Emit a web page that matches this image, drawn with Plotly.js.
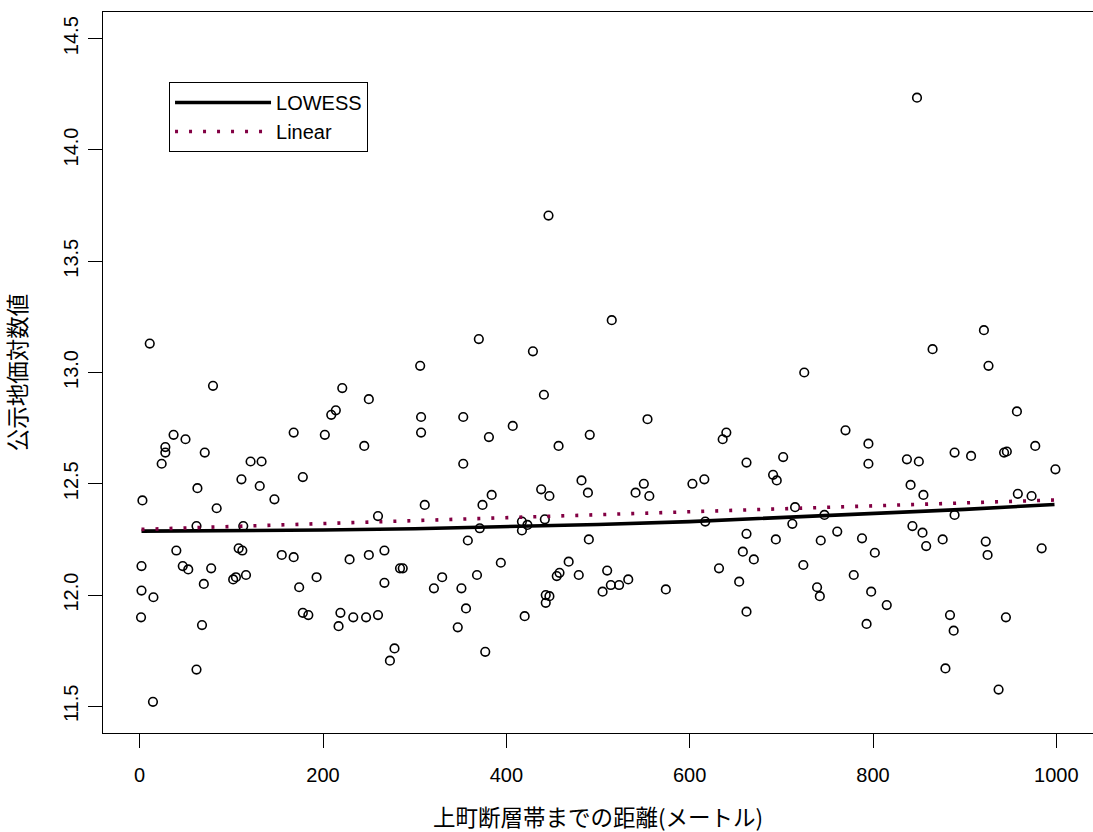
<!DOCTYPE html>
<html>
<head>
<meta charset="utf-8">
<script src="https://cdn.plot.ly/plotly-3.0.1.min.js"></script>
<style>
  html, body { margin: 0; padding: 0; background: #ffffff; overflow: hidden; }
  #chart { width: 1093px; height: 832px; }
</style>
</head>
<body>
<div id="chart"></div>
<script>
// ---- data ----
const distX = [
  11, 80, 221, 214, 209, 37, 50, 168, 202, 28, 28, 71, 24, 121, 133, 111, 178, 131, 3, 63,
  84, 147, 62, 113, 40, 2, 47, 53, 78, 108, 112, 155, 168, 229, 70, 102, 105, 116, 174, 193,
  2, 15, 1.5, 68, 178, 184, 219, 217, 62, 14.5,
  370, 429, 306, 250, 441, 307, 353, 307, 407, 381, 457, 491, 245, 353, 482, 438, 447, 489, 384, 374,
  311, 260, 417, 423, 417, 442, 371, 358, 250, 267, 284, 287, 267, 330, 321, 351, 368, 394, 468, 458,
  455, 479, 443, 447, 443, 356, 420, 233, 247, 260, 347, 278, 273, 377, 446,
  515, 725, 554, 640, 636, 662, 702, 691, 695, 550, 541, 556, 603, 616, 715, 747, 712, 617, 662, 694,
  743, 490, 658, 670, 632, 724, 654, 510, 514, 523, 533, 505, 574, 662, 739, 742,
  921, 865, 926, 957, 770, 795, 795, 837, 850, 889, 907, 943, 946, 977, 999, 841, 855, 958, 973, 889,
  843, 854, 761, 788, 802, 858, 876, 923, 925, 984, 779, 798, 815, 793, 884, 888, 945, 879, 937, 848
];
const logPrice = [
  13.13, 12.94, 12.93, 12.83, 12.81, 12.72, 12.70, 12.73, 12.72, 12.665, 12.64, 12.64, 12.59, 12.60, 12.60, 12.52, 12.53, 12.49, 12.425, 12.48,
  12.39, 12.43, 12.31, 12.31, 12.20, 12.13, 12.13, 12.115, 12.12, 12.21, 12.20, 12.18, 12.17, 12.16, 12.05, 12.07, 12.08, 12.09, 12.035, 12.08,
  12.02, 11.99, 11.90, 11.865, 11.92, 11.91, 11.92, 11.86, 11.665, 11.52,
  13.15, 13.095, 13.03, 12.88, 12.90, 12.80, 12.80, 12.73, 12.76, 12.71, 12.67, 12.72, 12.67, 12.59, 12.515, 12.475, 12.445, 12.46, 12.45, 12.405,
  12.405, 12.355, 12.33, 12.315, 12.29, 12.34, 12.30, 12.245, 12.18, 12.20, 12.12, 12.12, 12.055, 12.08, 12.03, 12.03, 12.09, 12.145, 12.15, 12.10,
  12.085, 12.09, 12.00, 11.995, 11.965, 11.94, 11.905, 11.90, 11.90, 11.91, 11.855, 11.76, 11.705, 11.745, 13.705,
  13.235, 13.00, 12.79, 12.73, 12.70, 12.595, 12.62, 12.54, 12.515, 12.50, 12.46, 12.445, 12.50, 12.52, 12.395, 12.36, 12.32, 12.33, 12.275, 12.25,
  12.245, 12.25, 12.195, 12.16, 12.12, 12.135, 12.06, 12.11, 12.045, 12.045, 12.07, 12.015, 12.025, 11.925, 12.035, 11.995,
  13.19, 13.105, 13.03, 12.825, 12.74, 12.68, 12.59, 12.61, 12.60, 12.64, 12.625, 12.64, 12.645, 12.67, 12.565, 12.495, 12.45, 12.455, 12.445, 12.36,
  12.31, 12.28, 12.285, 12.255, 12.19, 12.22, 12.25, 12.24, 12.18, 12.21, 12.09, 12.015, 11.955, 11.87, 11.91, 11.84, 11.90, 11.67, 11.575, 14.235
];

const lowessX = [2, 100, 200, 300, 400, 500, 600, 700, 800, 900, 998];
const lowessY = [12.287, 12.289, 12.292, 12.298, 12.306, 12.317, 12.330, 12.347, 12.366, 12.385, 12.407];

const linearX = [2, 998];
const linearY = [12.295, 12.427];

const xTickVals = [0, 200, 400, 600, 800, 1000];
const xTickText = ['0', '200', '400', '600', '800', '1000'];
const yTickVals = [11.5, 12.0, 12.5, 13.0, 13.5, 14.0, 14.5];
const yTickText = ['11.5', '12.0', '12.5', '13.0', '13.5', '14.0', '14.5'];

const seriesNames = ['LOWESS', 'Linear'];
const xTitle = '上町断層帯までの距離(メートル)';
const yTitle = '公示地価対数値';

// ---- styling ----
const tickFont = { family: 'Liberation Sans, Arial, sans-serif', size: 20, color: '#000000' };
const titleFont = { family: '"Noto Sans CJK JP", "Noto Sans CJK SC", sans-serif', size: 22.5, color: '#000000' };
const linearColor = '#820043';

const traces = [
  {
    type: 'scatter', mode: 'markers', x: distX, y: logPrice, showlegend: false, hoverinfo: 'x+y',
    marker: { symbol: 'circle-open', size: 8.6, color: '#000000', line: { width: 1.6, color: '#000000' } }
  },
  {
    type: 'scatter', mode: 'lines', x: lowessX, y: lowessY, name: seriesNames[0],
    line: { color: '#000000', width: 3.6 }
  },
  {
    type: 'scatter', mode: 'lines', x: linearX, y: linearY, name: seriesNames[1],
    line: { color: linearColor, width: 3.6, dash: '3px,11px' }
  }
];

const layout = {
  width: 1093, height: 832,
  margin: { l: 103, r: 0, t: 12, b: 99, pad: 0 },
  paper_bgcolor: '#ffffff', plot_bgcolor: '#ffffff',
  font: { family: 'Liberation Sans, Arial, sans-serif', color: '#000000' },
  xaxis: {
    range: [-40, 1040], showgrid: false, zeroline: false,
    showline: true, linecolor: '#000000', linewidth: 1, mirror: true,
    ticks: 'outside', ticklen: 14, tickwidth: 1, tickcolor: '#000000',
    tickmode: 'array', tickvals: xTickVals, ticktext: xTickText,
    tickfont: tickFont, ticklabelstandoff: 10,
    automargin: true,
    title: { text: xTitle, font: titleFont, standoff: 26 }
  },
  yaxis: {
    range: [11.38, 14.62], showgrid: false, zeroline: false,
    showline: true, linecolor: '#000000', linewidth: 1, mirror: false,
    ticks: 'outside', ticklen: 14, tickwidth: 1, tickcolor: '#000000',
    tickmode: 'array', tickvals: yTickVals, ticktext: yTickText,
    tickangle: -90, tickfont: tickFont, ticklabelstandoff: 2,
    automargin: true,
    title: { text: yTitle, font: titleFont, standoff: 30 }
  },
  showlegend: true,
  legend: {
    x: 0.0667, y: 0.903, xanchor: 'left', yanchor: 'top',
    bgcolor: '#ffffff', bordercolor: '#000000', borderwidth: 1,
    font: { family: 'Liberation Sans, Arial, sans-serif', size: 20, color: '#000000' },
    itemwidth: 96, traceorder: 'normal'
  }
};

Plotly.newPlot('chart', traces, layout, { displayModeBar: false, staticPlot: false });
</script>
</body>
</html>
